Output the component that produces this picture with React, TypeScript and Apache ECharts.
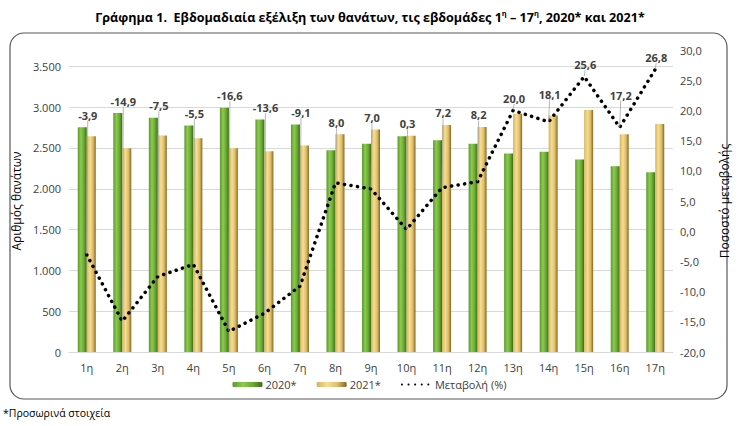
import React, { useEffect, useRef } from "react";
import * as echarts from "echarts";

const weeks = ["1η", "2η", "3η", "4η", "5η", "6η", "7η", "8η", "9η", "10η", "11η", "12η", "13η", "14η", "15η", "16η", "17η"];
const deaths2020 = [2755, 2927, 2870, 2775, 2992, 2849, 2788, 2472, 2550, 2644, 2595, 2550, 2432, 2452, 2358, 2276, 2202];
const deaths2021 = [2644, 2497, 2652, 2620, 2497, 2460, 2530, 2667, 2725, 2650, 2782, 2757, 2920, 2896, 2964, 2667, 2792];
const changePct = [-3.9, -14.9, -7.5, -5.5, -16.6, -13.6, -9.1, 8.0, 7.0, 0.3, 7.2, 8.2, 20.0, 18.1, 25.6, 17.2, 26.8];
const leftTicks = { min: 0, max: 3700, interval: 500 };
const rightTicks = { min: -20, max: 30, interval: 5 };

const FONT = "'Open Sans', 'Noto Sans', sans-serif";

export default function App() {
  const ref = useRef<HTMLDivElement>(null);
  const chartRef = useRef<any>(null);

  useEffect(() => {
    document.body.style.margin = "0";
    if (!ref.current) return;
    const chart = echarts.init(ref.current, null, { renderer: "svg" });
    chartRef.current = chart;

    const green = new echarts.graphic.LinearGradient(0, 0, 1, 0, [
      { offset: 0, color: "#5a9a2c" },
      { offset: 0.35, color: "#8ccb4c" },
      { offset: 0.7, color: "#68a734" },
      { offset: 1, color: "#3b6a18" },
    ]);
    const yellow = new echarts.graphic.LinearGradient(0, 0, 1, 0, [
      { offset: 0, color: "#d6b25a" },
      { offset: 0.35, color: "#f6de92" },
      { offset: 0.7, color: "#dcbc66" },
      { offset: 1, color: "#856626" },
    ]);

    const fmtPct = (v: number) => v.toFixed(1).replace(".", ",");

    // highest value of the change line within the label's horizontal span
    const lineTopNear = (i: number) => {
      const f = 0.35;
      let m = changePct[i];
      if (i > 0) m = Math.max(m, changePct[i] + (changePct[i - 1] - changePct[i]) * f);
      if (i < changePct.length - 1) m = Math.max(m, changePct[i] + (changePct[i + 1] - changePct[i]) * f);
      return m;
    };

    const option: any = {
      animation: false,
      textStyle: { fontFamily: FONT },
      grid: { left: 69, right: 66, top: 50, bottom: 74, containLabel: false },
      graphic: [
        {
          type: "rect",
          shape: { x: 10, y: 33, width: 717, height: 366, r: 14 },
          style: { fill: "none", stroke: "#595959", lineWidth: 1.2 },
          silent: true,
          z: -10,
        },
        {
          type: "text",
          x: 370,
          y: 17,
          style: {
            text: "{a|Γράφημα 1.  Εβδομαδιαία εξέλιξη των θανάτων, τις εβδομάδες 1}{s|η}{a| – 17}{s|η}{a|, 2020* και 2021*}",
            align: "center",
            verticalAlign: "middle",
            rich: {
              a: { fontFamily: FONT, fontSize: 12.6, fontWeight: "bold", fill: "#000", lineHeight: 17 },
              s: { fontFamily: FONT, fontSize: 7.5, fontWeight: "bold", fill: "#000", lineHeight: 17, verticalAlign: "top", padding: [0, 0, 6, 0] },
            },
          },
        },
        {
          type: "text",
          x: 3,
          y: 413,
          style: {
            text: "*Προσωρινά στοιχεία",
            fontFamily: FONT,
            fontSize: 10.5,
            fill: "#000",
            verticalAlign: "middle",
          },
        },
      ],
      legend: {
        bottom: 36,
        left: "center",
        itemWidth: 30,
        itemHeight: 5,
        itemGap: 20,
        padding: 0,
        textStyle: { fontFamily: FONT, fontSize: 11, lineHeight: 11, color: "#404040", padding: [0, 0, 0, -2] },
        data: ["2020*", "2021*", "Μεταβολή (%)"],
      },
      xAxis: {
        type: "category",
        data: weeks,
        axisLine: { lineStyle: { color: "#d9d9d9" } },
        axisTick: { show: false },
        axisLabel: { color: "#404040", fontSize: 11, lineHeight: 11, margin: 10, fontFamily: FONT },
      },
      yAxis: [
        {
          type: "value",
          min: leftTicks.min,
          max: leftTicks.max,
          interval: leftTicks.interval,
          name: "Αριθμός θανάτων",
          nameLocation: "middle",
          nameRotate: 90,
          nameGap: 44,
          nameTextStyle: { color: "#000", fontSize: 12, fontFamily: FONT },
          axisLine: { show: false },
          axisTick: { show: false },
          axisLabel: {
            color: "#404040",
            fontSize: 11,
            fontFamily: FONT,
            showMaxLabel: false,
            formatter: (v: number) => (v % 500 === 0 ? v.toLocaleString("de-DE") : ""),
          },
          splitLine: {
            show: true,
            showMaxLine: false,
            lineStyle: {
              color: ["#d9d9d9", "#d9d9d9", "#d9d9d9", "#d9d9d9", "#d9d9d9", "#d9d9d9", "#d9d9d9", "#d9d9d9", "rgba(0,0,0,0)"],
              width: 1,
            },
          },
        },
        {
          type: "value",
          min: rightTicks.min,
          max: rightTicks.max,
          interval: rightTicks.interval,
          name: "Ποσοστό μεταβολής",
          nameLocation: "middle",
          nameRotate: 90,
          nameGap: 45,
          nameTextStyle: { color: "#000", fontSize: 12, fontFamily: FONT },
          axisLine: { show: false },
          axisTick: { show: false },
          splitLine: { show: false },
          axisLabel: {
            color: "#404040",
            fontSize: 11,
            fontFamily: FONT,
            margin: 7,
            formatter: (v: number) => fmtPct(v),
          },
        },
      ],
      series: [
        {
          name: "2020*",
          type: "bar",
          data: deaths2020,
          barWidth: 9,
          barGap: "0%",
          itemStyle: { color: green },
        },
        {
          name: "2021*",
          type: "bar",
          data: deaths2021,
          barWidth: 9,
          barGap: "0%",
          itemStyle: { color: yellow },
        },
        {
          name: "Μεταβολή (%)",
          type: "line",
          yAxisIndex: 1,
          data: changePct,
          z: 5,
          showSymbol: true,
          symbol: "circle",
          symbolSize: 1,
          itemStyle: { color: "rgba(0,0,0,0)" },
          lineStyle: { color: "#000", width: 3.5, type: [0.1, 6.5], cap: "round" },
          label: {
            show: true,
            formatter: (p: any) => fmtPct(p.value),
            color: "#404040",
            fontSize: 11,
            fontWeight: "bold",
            fontFamily: FONT,
          },
          labelLine: { show: true, lineStyle: { color: "#a6a6a6", width: 0.8 } },
          labelLayout: (params: any) => {
            const i = params.dataIndex;
            const c = chartRef.current;
            let yBar: any, yPt: any;
            try {
              yBar = c.convertToPixel({ yAxisIndex: 0 }, Math.max(deaths2020[i], deaths2021[i]));
              yPt = c.convertToPixel({ yAxisIndex: 1 }, lineTopNear(i));
            } catch (e) {
              return {};
            }
            if (typeof yBar !== "number" || typeof yPt !== "number" || isNaN(yBar) || isNaN(yPt)) return {};
            return {
              x: params.rect.x + params.rect.width / 2 + 1,
              y: Math.min(yBar, yPt) - 12,
              align: "center",
              verticalAlign: "middle",
            };
          },
        },
      ],
    };

    chart.setOption(option);
    return () => {
      chart.dispose();
      chartRef.current = null;
    };
  }, []);

  return <div ref={ref} style={{ width: 739, height: 426 }} />;
}
